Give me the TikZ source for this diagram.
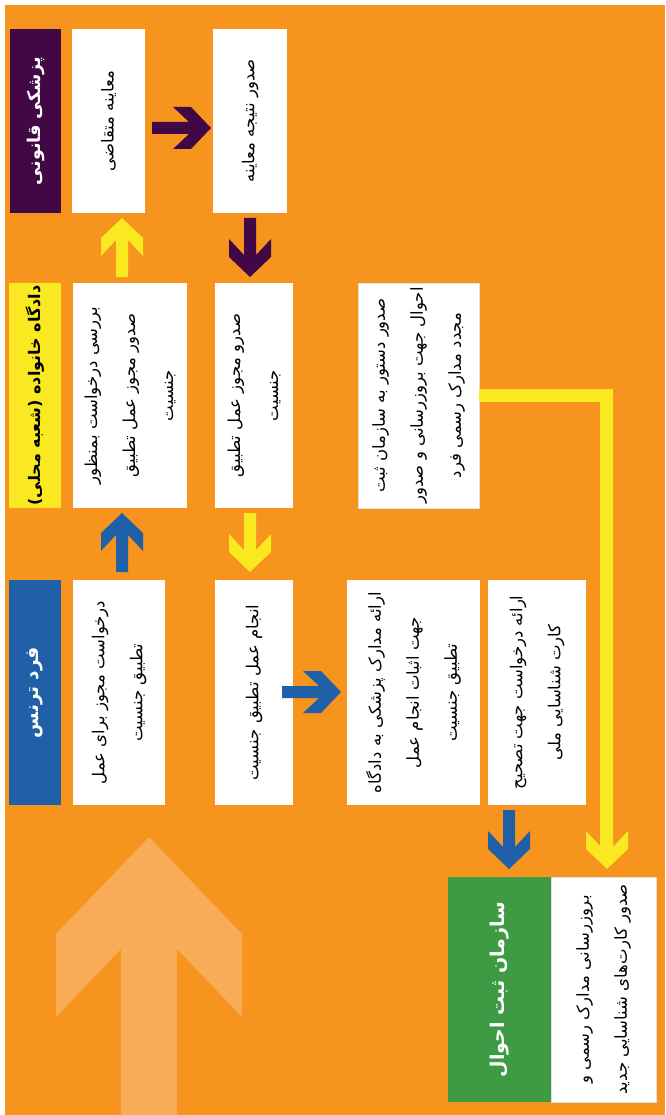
\documentclass[tikz,border=0pt]{standalone}
\usepackage{fontspec}
\newfontfamily\fa[Script=Arabic]{DejaVu Sans}
\TeXXeTstate=1
\newcommand\rtl[1]{\beginR #1\endR}
\definecolor{bgor}{HTML}{F6941E}
\definecolor{ltor}{HTML}{F8AC58}
\definecolor{purp}{HTML}{420846}
\definecolor{ylw}{HTML}{FAE820}
\definecolor{blu}{HTML}{2060A8}
\definecolor{grn}{HTML}{3F9A44}
\tikzset{
  chev/.pic={\fill[#1] (0,0) -- (-20,-21) -- (-38,-21) -- (-22,-6) -- (-59,-6) -- (-59,6) -- (-22,6) -- (-38,21) -- (-20,21) -- cycle;},
  base/.style={rotate=90, inner sep=0pt, outer sep=0pt, align=center},
  wbox/.style={base, fill=white, text=black, font={\fa\fontsize{16.5pt}{38pt}\selectfont}},
  hdr/.style={base, font={\fa\bfseries\fontsize{#1}{24pt}\selectfont}},
}
\begin{document}
\begin{tikzpicture}[x=1pt,y=-1pt]
\useasboundingbox (0,0) rectangle (665,1115);
\fill[white] (0,0) rectangle (665,1115);
\fill[bgor] (5,5) rectangle (665,1115);
% big faint arrow
\fill[ltor] (149,837) -- (242,934) -- (242,1017) -- (177,949) -- (177,1115) -- (121,1115) -- (121,949) -- (56,1017) -- (56,934) -- cycle;
% row 1
\node[hdr=17.5pt, fill=purp, text=white, minimum width=184pt, minimum height=51pt] (HA) at (35.5,121) {\rtl{پزشکی قانونی}};
\node[wbox, minimum width=184pt, minimum height=73pt] (A1) at (108.5,121) {\rtl{معاینه متقاضی}};
\node[wbox, minimum width=184pt, minimum height=74pt] (A2) at (250,121) {\rtl{صدور نتیجه معاینه}};
% row 2
\node[hdr=16pt, fill=ylw, text=black, minimum width=225pt, minimum height=52pt] (HB) at (35,395.5) {\rtl{دادگاه خانواده (شعبه محلی)}};
\node[wbox, minimum width=225pt, minimum height=114pt] (B1) at (130,395.5) {\rtl{بررسی درخواست بمنظور}\\\rtl{صدور مجوز عمل تطبیق}\\\rtl{جنسیت}};
\node[wbox, minimum width=225pt, minimum height=78pt] (B2) at (254,395.5) {\rtl{صدرو مجوز عمل تطبیق}\\\rtl{جنسیت}};
\node[wbox, draw=black!12, line width=0.6pt, minimum width=225pt, minimum height=121pt] (B3) at (418.5,395.5) {\rtl{صدور دستور به سازمان ثبت}\\\rtl{احوال جهت بروزرسانی و صدور}\\\rtl{مجدد مدارک رسمی فرد}};
% row 3
\node[hdr=18.5pt, fill=blu, text=white, minimum width=225pt, minimum height=52pt] (HC) at (35,692.5) {\rtl{فرد ترنس}};
\node[wbox, minimum width=225pt, minimum height=92pt] (C1) at (119,692.5) {\rtl{درخواست مجوز برای عمل}\\\rtl{تطبیق جنسیت}};
\node[wbox, minimum width=225pt, minimum height=78pt] (C2) at (254,692.5) {\rtl{انجام عمل تطبیق جنسیت}};
\node[wbox, minimum width=225pt, minimum height=133pt] (C3) at (413.5,692.5) {\rtl{ارائه مدارک پزشکی به دادگاه}\\\rtl{جهت اثبات انجام عمل}\\\rtl{تطبیق جنسیت}};
\node[wbox, minimum width=225pt, minimum height=98pt] (C4) at (537,692.5) {\rtl{ارائه درخواست جهت تصحیح}\\\rtl{کارت شناسایی ملی}};
% row 4
\node[hdr=19pt, fill=grn, text=white, minimum width=225pt, minimum height=103pt] (HD) at (499.5,989.5) {\rtl{سازمان ثبت احوال}};
\node[wbox, draw=black!12, line width=0.6pt, minimum width=225pt, minimum height=105pt] (D) at (603.5,989.5) {\rtl{بروزرسانی مدارک رسمی و}\\\rtl{صدور کارت‌های شناسایی جدید}};
% block arrows
\pic[rotate=0] at (211,128) {chev=purp};
\pic[rotate=90] at (122,218) {chev=ylw};
\pic[rotate=-90] at (250,277) {chev=purp};
\pic[rotate=90] at (122,513) {chev=blu};
\pic[rotate=-90] at (250,572) {chev=ylw};
\pic[rotate=0] at (341,692) {chev=blu};
\pic[rotate=-90] at (509,869) {chev=blu};
% yellow L connector
\coordinate (Lc) at (606.5,395.5);
\coordinate (Le) at (606.5,850);
\draw[ylw, line width=13pt] (B3.south) -- (Lc) -- (Le);
\pic[rotate=-90] at (607,869) {chev=ylw};
\end{tikzpicture}
\end{document}
